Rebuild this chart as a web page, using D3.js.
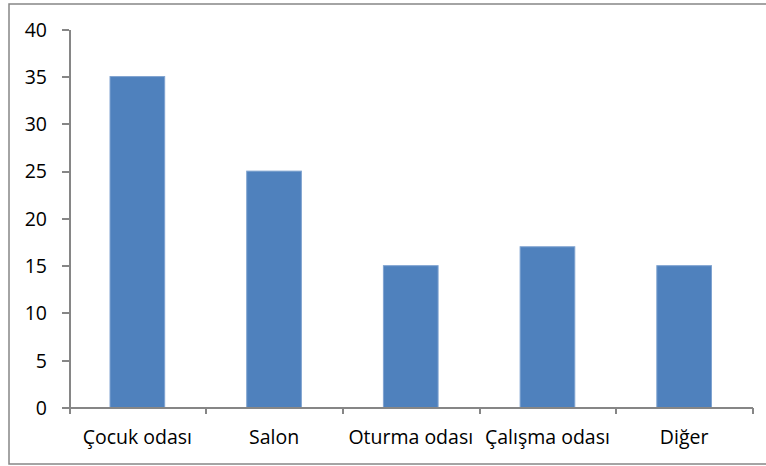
<!DOCTYPE html>
<html>
<meta charset="utf-8">
<style>
body { margin: 0; background: #fff; }
text { font-family: "Open Sans", Lato, sans-serif; font-size: 19.5px; fill: #000; }
.axis path, .axis line { stroke: #868686; stroke-width: 2px; shape-rendering: crispEdges; }
.bar { fill: #4f81bd; stroke: #7fa3d0; stroke-width: 1px; }
</style>
<body>
<script src="https://d3js.org/d3.v7.min.js"></script>
<script>
var rooms = ["Çocuk odası", "Salon", "Oturma odası", "Çalışma odası", "Diğer"];
var counts = [35, 25, 15, 17, 15];
var yTicks = [0, 5, 10, 15, 20, 25, 30, 35, 40];

var W = 766, H = 466;
var plot = {left: 69, right: 752.5, top: 29.3, bottom: 407.5};

var svg = d3.select("body").append("svg")
    .attr("width", W)
    .attr("height", H);

// chart border (right edge runs off the picture)
svg.append("rect")
    .attr("x", 9).attr("y", 4)
    .attr("width", 780).attr("height", 460)
    .attr("fill", "none")
    .attr("stroke", "#868686")
    .attr("stroke-width", 1.5);

var x = d3.scaleBand()
    .domain(rooms)
    .range([plot.left, plot.right])
    .paddingInner(0.6)
    .paddingOuter(0.3);

var y = d3.scaleLinear()
    .domain([0, 40])
    .range([plot.bottom, plot.top]);

svg.selectAll(".bar")
  .data(rooms)
  .enter().append("rect")
    .attr("class", "bar")
    .attr("x", function(d) { return x(d); })
    .attr("width", x.bandwidth())
    .attr("y", function(d, i) { return y(counts[i]); })
    .attr("height", function(d, i) { return plot.bottom - y(counts[i]); });

// y axis
var yAxis = svg.append("g")
    .attr("class", "axis")
    .attr("transform", "translate(" + plot.left + ",0)")
    .call(d3.axisLeft(y).tickValues(yTicks).tickSize(7).tickSizeOuter(0).tickPadding(14));
yAxis.selectAll("text").attr("dy", "0.35em").attr("x", -22);

// x axis: ticks sit on the category boundaries
var bounds = d3.range(rooms.length + 1).map(function(i) {
  return plot.left + i * (plot.right - plot.left) / rooms.length;
});
var xb = d3.scaleLinear().domain([plot.left, plot.right]).range([plot.left, plot.right]);
svg.append("g")
    .attr("class", "axis")
    .attr("transform", "translate(0," + plot.bottom + ")")
    .call(d3.axisBottom(xb).tickValues(bounds).tickSize(6).tickSizeOuter(0).tickFormat(""));

svg.append("g")
  .selectAll("text")
  .data(rooms)
  .enter().append("text")
    .attr("x", function(d) { return x(d) + x.bandwidth() / 2; })
    .attr("y", 444)
    .attr("text-anchor", "middle")
    .text(function(d) { return d; });
</script>
</body>
</html>
